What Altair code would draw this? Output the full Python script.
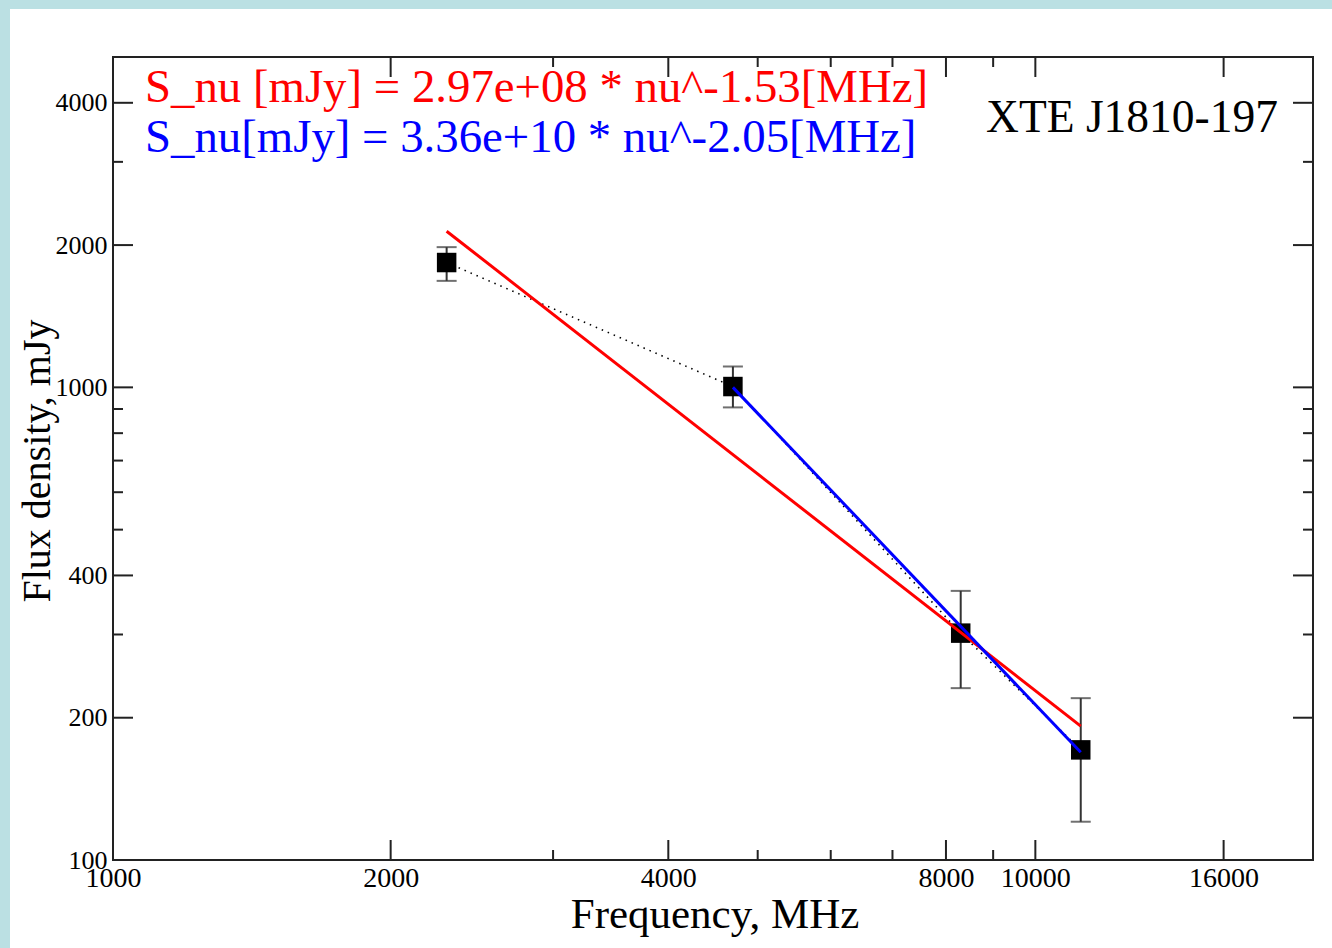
import altair as alt
import pandas as pd

# ---- data ----
freq = [2300, 4700, 8300, 11200]
flux = [1837, 1004, 302, 171]
flux_lo = [1680, 907, 231, 120.5]
flux_hi = [1980, 1107, 371, 220]

red_fit_freq = [2300, 11200]
red_fit_flux = [2140, 192]
blue_fit_freq = [4700, 11200]
blue_fit_flux = [1000, 169]

x_major = [1000, 2000, 4000, 8000, 10000, 16000]
x_minor = [3000, 5000, 6000, 7000, 9000]
y_major = [100, 200, 400, 1000, 2000, 4000]
y_minor = [300, 500, 600, 700, 800, 900, 3000]

red_label = "S_nu [mJy] = 2.97e+08 * nu^-1.53[MHz]"
blue_label = "S_nu[mJy] = 3.36e+10 * nu^-2.05[MHz]"
source_label = "XTE J1810-197"
x_title = "Frequency, MHz"
y_title = "Flux density, mJy"

SERIF = "Liberation Serif"
W, H = 1200, 803
AX = "#222222"

pts = pd.DataFrame({"f": freq, "s": flux, "lo": flux_lo, "hi": flux_hi})
red = pd.DataFrame({"f": red_fit_freq, "s": red_fit_flux})
blue = pd.DataFrame({"f": blue_fit_freq, "s": blue_fit_flux})
xmaj = pd.DataFrame({"v": x_major})
xmin = pd.DataFrame({"v": x_minor})
ymaj = pd.DataFrame({"v": y_major})
ymin = pd.DataFrame({"v": y_minor})
dummy = pd.DataFrame({"a": [0]})

xscale = alt.Scale(type="log", domain=[1000, 20000], nice=False)
yscale = alt.Scale(type="log", domain=[100, 5000], nice=False)
xaxis = alt.Axis(values=x_major, title=None, grid=False, domain=False, ticks=False,
                 labelFont=SERIF, labelFontSize=28, labelPadding=4, labelColor="black",
                 labelFlush=False, labelOverlap=False, format="d")
yaxis = alt.Axis(values=y_major, title=None, grid=False, domain=False, ticks=False,
                 labelFont=SERIF, labelFontSize=26, labelPadding=6, labelColor="black",
                 labelFlush=False, labelOverlap=False, format="d")


def X(field):
    return alt.X(field, type="quantitative", scale=xscale, axis=xaxis)


def Y(field):
    return alt.Y(field, type="quantitative", scale=yscale, axis=yaxis)


layers = []

# light blue frame strips of the page
layers.append(alt.Chart(dummy).mark_rect(color="#bbe0e3").encode(
    x=alt.value(-113), x2=alt.value(-103), y=alt.value(-57), y2=alt.value(H + 88)))
layers.append(alt.Chart(dummy).mark_rect(color="#bbe0e3").encode(
    x=alt.value(-113), x2=alt.value(W + 19), y=alt.value(-57), y2=alt.value(-48)))

# inward ticks (mirrored on all sides)
for df, ln in ((xmaj, 20), (xmin, 10)):
    layers.append(alt.Chart(df).mark_rule(color=AX, strokeWidth=2).encode(
        x=X("v"), y=alt.value(H), y2=alt.value(H - ln)))
    layers.append(alt.Chart(df).mark_rule(color=AX, strokeWidth=2).encode(
        x=X("v"), y=alt.value(0), y2=alt.value(ln)))
for df, ln in ((ymaj, 20), (ymin, 10)):
    layers.append(alt.Chart(df).mark_rule(color=AX, strokeWidth=2).encode(
        y=Y("v"), x=alt.value(0), x2=alt.value(ln)))
    layers.append(alt.Chart(df).mark_rule(color=AX, strokeWidth=2).encode(
        y=Y("v"), x=alt.value(W), x2=alt.value(W - ln)))

# dotted connecting line
layers.append(alt.Chart(pts).mark_line(color="black", strokeWidth=1.6, strokeDash=[1.5, 5]).encode(
    x=X("f"), y=Y("s")))

# error bars
layers.append(alt.Chart(pts).mark_rule(color="#333333", strokeWidth=2).encode(
    x=X("f"), y=Y("lo"), y2="hi"))
layers.append(alt.Chart(pts).mark_tick(color="#333333", thickness=2, size=20, orient="horizontal").encode(
    x=X("f"), y=Y("lo")))
layers.append(alt.Chart(pts).mark_tick(color="#333333", thickness=2, size=20, orient="horizontal").encode(
    x=X("f"), y=Y("hi")))

# data squares
layers.append(alt.Chart(pts).mark_square(color="black", size=380, opacity=1).encode(
    x=X("f"), y=Y("s")))

# fits
layers.append(alt.Chart(red).mark_line(color="#ff0000", strokeWidth=3).encode(x=X("f"), y=Y("s")))
layers.append(alt.Chart(blue).mark_line(color="#0000ff", strokeWidth=3).encode(x=X("f"), y=Y("s")))

# texts
layers.append(alt.Chart(dummy).mark_text(text=red_label, font=SERIF, fontSize=46.8, color="#ff0000",
                                         align="left", baseline="alphabetic").encode(
    x=alt.value(32), y=alt.value(45)))
layers.append(alt.Chart(dummy).mark_text(text=blue_label, font=SERIF, fontSize=46.8, color="#0000ff",
                                         align="left", baseline="alphabetic").encode(
    x=alt.value(32), y=alt.value(95)))
layers.append(alt.Chart(dummy).mark_text(text=source_label, font=SERIF, fontSize=45.5, color="black",
                                         align="right", baseline="alphabetic").encode(
    x=alt.value(1165), y=alt.value(75)))
layers.append(alt.Chart(dummy).mark_text(text=x_title, font=SERIF, fontSize=43, color="black",
                                         align="center", baseline="alphabetic").encode(
    x=alt.value(602), y=alt.value(871)))
layers.append(alt.Chart(dummy).mark_text(text=y_title, font=SERIF, fontSize=40, color="black",
                                         align="center", baseline="alphabetic", angle=270).encode(
    x=alt.value(-63), y=alt.value(404)))

chart = alt.layer(*layers).properties(
    width=W, height=H, background="white",
    autosize=alt.AutoSizeParams(type="none"),
    padding={"left": 113, "top": 57, "right": 19, "bottom": 88},
).configure_view(stroke=AX, strokeWidth=2)

chart.save("out.html", embed_options={"renderer": "svg", "actions": False})
